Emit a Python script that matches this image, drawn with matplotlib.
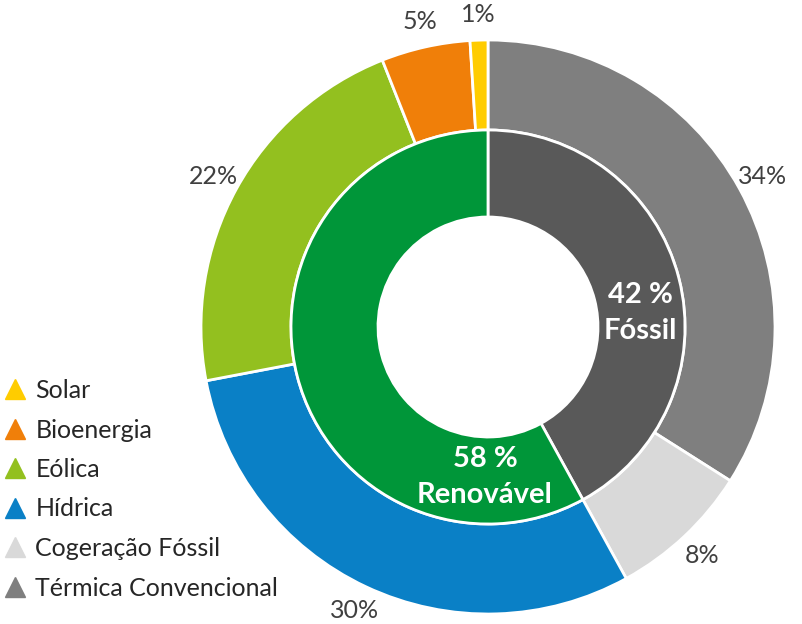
import matplotlib
matplotlib.use("Agg")
import matplotlib.pyplot as plt
from matplotlib.lines import Line2D

# Data
outer_labels = ["Térmica Convencional", "Cogeração Fóssil", "Hídrica", "Eólica", "Bioenergia", "Solar"]
outer_values = [34, 8, 30, 22, 5, 1]
outer_colors = ["#7f7f7f", "#d9d9d9", "#0a80c6", "#93c01f", "#f07f09", "#ffcc00"]

inner_labels = ["Fóssil", "Renovável"]
inner_values = [42, 58]
inner_colors = ["#595959", "#009639"]

plt.rcParams['font.family'] = ['Lato', 'DejaVu Sans']

W, H = 802, 624
fig = plt.figure(figsize=(W / 100, H / 100), dpi=100)
cx, cy, R = 488, 327, 287
half = 300
ax = fig.add_axes([(cx - half) / W, (H - cy - half) / H, 2 * half / W, 2 * half / H])

r_inner_outer = 197 / R
r_hole = 110 / R

wedges_o, _, autotexts = ax.pie(
    outer_values, radius=1.0, colors=outer_colors, startangle=90, counterclock=False,
    autopct=lambda p: f"{p:.0f}%", pctdistance=1.09,
    wedgeprops=dict(width=1.0 - r_inner_outer, edgecolor="white", linewidth=2),
    textprops=dict(color="#404040", fontsize=18))

ax.pie(
    inner_values, radius=r_inner_outer, colors=inner_colors, startangle=90, counterclock=False,
    wedgeprops=dict(width=r_inner_outer - r_hole, edgecolor="white", linewidth=2))

# inner annotations
ax.text(152 / R, 14 / R, f"{inner_values[0]} %\n{inner_labels[0]}", ha="center", va="center",
        color="white", fontsize=21, fontweight="bold", linespacing=1.5)
ax.text(-3 / R, -150 / R, f"{inner_values[1]} %\n{inner_labels[1]}", ha="center", va="center",
        color="white", fontsize=21, fontweight="bold", linespacing=1.5)

lim = half / R
ax.set_xlim(-lim, lim)
ax.set_ylim(-lim, lim)
ax.set_aspect("equal")
ax.axis("off")

handles = [Line2D([], [], marker="^", linestyle="none", markersize=14,
                  markerfacecolor=c, markeredgecolor=c) for c in outer_colors]
leg_order = list(range(len(outer_labels)))[::-1]
fig.legend([handles[i] for i in leg_order], [outer_labels[i] for i in leg_order],
           loc="upper left", bbox_to_anchor=(4 / W, 1 - 379 / H), frameon=False,
           fontsize=18, labelspacing=0.66, handlelength=0.9, handletextpad=0.35,
           borderpad=0, borderaxespad=0, labelcolor="#262626")

fig.savefig("out.png", dpi=100, facecolor="white")
